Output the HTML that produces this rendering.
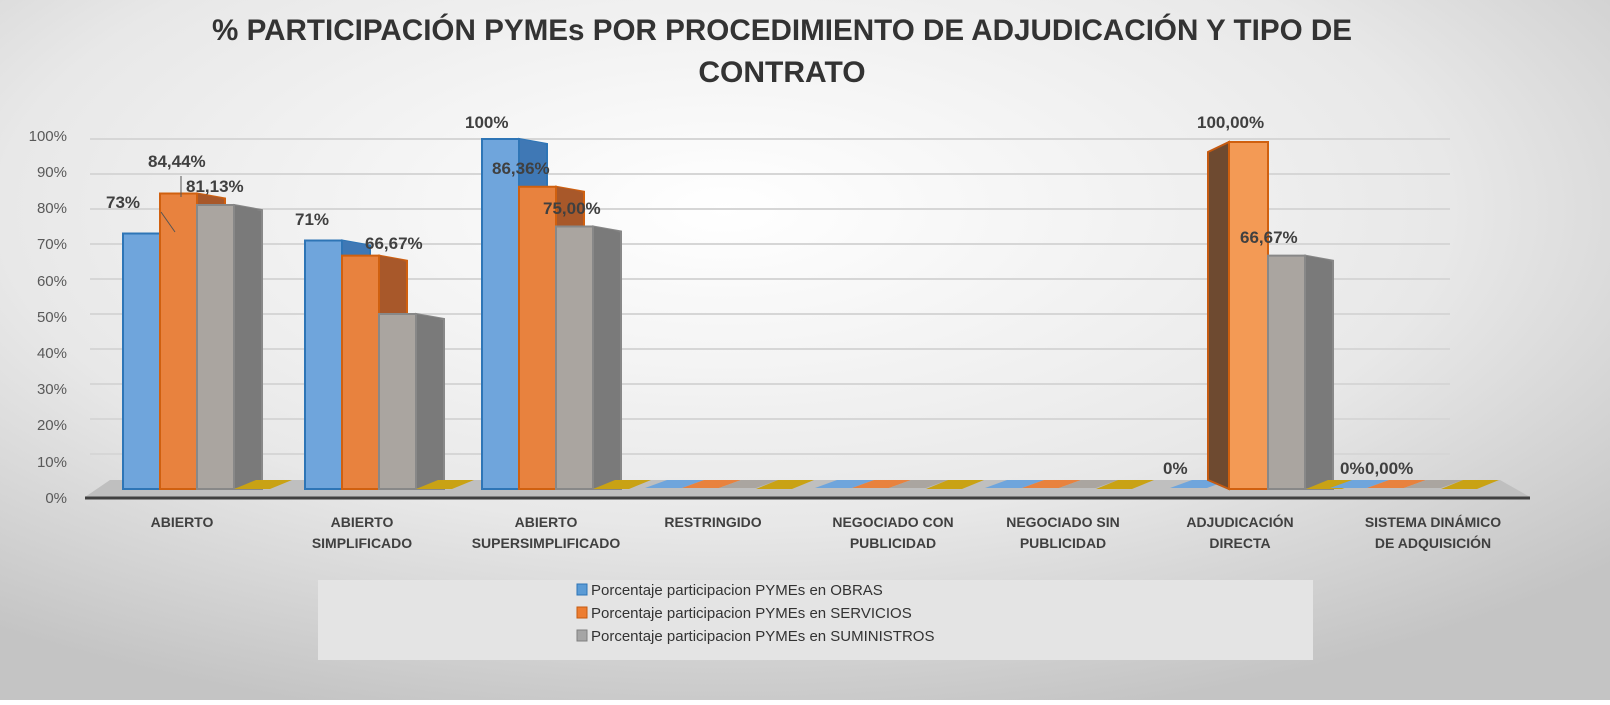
<!DOCTYPE html>
<html><head><meta charset="utf-8"><style>
html,body{margin:0;padding:0;}
body{width:1610px;height:700px;overflow:hidden;font-family:"Liberation Sans",sans-serif;}
svg text{font-family:"Liberation Sans",sans-serif;}
</style></head><body>
<svg id="s" width="1610" height="700" xmlns="http://www.w3.org/2000/svg">
<defs>
<radialGradient id="bg" cx="45%" cy="30%" r="75%">
<stop offset="0" stop-color="#ffffff"/><stop offset="0.6" stop-color="#e8e8e8"/><stop offset="1" stop-color="#c4c4c4"/>
</radialGradient>
</defs>
<rect width="1610" height="700" fill="url(#bg)"/>
<g id="grid" stroke="#d6d6d6" stroke-width="2"></g>
<polygon points="110,480 1500,480 1530,497 85,497" fill="#bfbfbf"/>
<line x1="85" y1="498" x2="1530" y2="498" stroke="#404040" stroke-width="3"/>
<g id="bars"></g>
<g font-size="30" font-weight="bold" fill="#333" text-anchor="middle">
<text x="782" y="40" textLength="1140" lengthAdjust="spacingAndGlyphs">% PARTICIPACIÓN PYMEs POR PROCEDIMIENTO DE ADJUDICACIÓN Y TIPO DE</text>
<text x="782" y="82">CONTRATO</text>
</g>
<g font-size="15" fill="#595959" text-anchor="end">
<text x="67" y="141">100%</text><text x="67" y="177">90%</text><text x="67" y="213">80%</text><text x="67" y="249">70%</text><text x="67" y="286">60%</text><text x="67" y="322">50%</text><text x="67" y="358">40%</text><text x="67" y="394">30%</text><text x="67" y="430">20%</text><text x="67" y="467">10%</text><text x="67" y="503">0%</text>
</g>
<g font-size="17" font-weight="bold" fill="#404040">
<text x="106" y="208">73%</text><text x="148" y="167">84,44%</text><text x="186" y="192">81,13%</text>
<text x="295" y="225">71%</text><text x="365" y="249">66,67%</text>
<text x="465" y="128">100%</text><text x="492" y="174">86,36%</text><text x="543" y="214">75,00%</text>
<text x="1197" y="128">100,00%</text><text x="1240" y="243">66,67%</text>
<text x="1163" y="474">0%</text><text x="1340" y="474">0%</text><text x="1365" y="474">0,00%</text>
</g>
<line x1="161" y1="212" x2="175" y2="232" stroke="#555"/>
<line x1="181" y1="176" x2="181" y2="197" stroke="#555"/>
<g font-size="14" font-weight="bold" fill="#404040" text-anchor="middle">
<text x="182" y="527">ABIERTO</text>
<text x="362" y="527">ABIERTO</text><text x="362" y="548">SIMPLIFICADO</text>
<text x="546" y="527">ABIERTO</text><text x="546" y="548">SUPERSIMPLIFICADO</text>
<text x="713" y="527">RESTRINGIDO</text>
<text x="893" y="527">NEGOCIADO CON</text><text x="893" y="548">PUBLICIDAD</text>
<text x="1063" y="527">NEGOCIADO SIN</text><text x="1063" y="548">PUBLICIDAD</text>
<text x="1240" y="527">ADJUDICACIÓN</text><text x="1240" y="548">DIRECTA</text>
<text x="1433" y="527">SISTEMA DINÁMICO</text><text x="1433" y="548">DE ADQUISICIÓN</text>
</g>
<rect x="318" y="580" width="995" height="80" fill="#e4e4e4"/>
<rect x="577" y="584" width="10" height="11" fill="#5b9bd5" stroke="#2e75b6"/>
<rect x="577" y="607" width="10" height="11" fill="#ed7d31" stroke="#c55a11"/>
<rect x="577" y="630" width="10" height="11" fill="#a5a5a5" stroke="#7f7f7f"/>
<g font-size="15" fill="#333">
<text x="591" y="595">Porcentaje participacion PYMEs en OBRAS</text>
<text x="591" y="618">Porcentaje participacion PYMEs en SERVICIOS</text>
<text x="591" y="641">Porcentaje participacion PYMEs en SUMINISTROS</text>
</g>
</svg>
<script>
var NS="http://www.w3.org/2000/svg";
var g=document.getElementById("grid");
for(var k=1;k<=10;k++){var y=489-35*k;var l=document.createElementNS(NS,"line");l.setAttribute("x1",90);l.setAttribute("x2",1450);l.setAttribute("y1",y);l.setAttribute("y2",y);g.appendChild(l);}
var b=document.getElementById("bars");
function poly(p,f,s,o){var e=document.createElementNS(NS,"polygon");e.setAttribute("points",p);e.setAttribute("fill",f);if(s){e.setAttribute("stroke",s);e.setAttribute("stroke-width",2);}if(o)e.setAttribute("opacity",o);b.appendChild(e);}
var C=[["#6fa5dc","#3f78b5","#2e75b6"],["#e8823e","#a8582a","#d0600f"],["#aaa5a0","#7a7a7a","#888"]];
var base=489,W=37;
function bar(x,v,c){if(v<=0){poly((x)+","+(base-1)+" "+(x+W)+","+(base-1)+" "+(x+W+22)+","+(base-9)+" "+(x+22)+","+(base-9),C[c][0]);return;}
var t=base-3.5*v;
poly((x+W)+","+t+" "+(x+W+28)+","+(t+5)+" "+(x+W+28)+","+(base)+" "+(x+W)+","+base,C[c][1],C[c][2]);
poly(x+","+t+" "+(x+W)+","+t+" "+(x+W+28)+","+(t+5)+" "+(x+28)+","+(t+5),C[c][1]);
poly(x+","+t+" "+(x+W)+","+t+" "+(x+W)+","+base+" "+x+","+base,C[c][0],C[c][2]);}
function yel(x){poly(x+","+base+" "+(x+36)+","+base+" "+(x+58)+","+(base-9)+" "+(x+22)+","+(base-9),"#c9a214");}
var groups=[[123,[73,84.44,81.13]],[305,[71,66.67,50]],[482,[100,86.36,75]],[645,[0,0,0]],[815,[0,0,0]],[985,[0,0,0]],[1160,[0,100,66.67]],[1330,[0,0,0]]];
groups.forEach(function(gp){var x=gp[0];
 if(gp[0]==1160){bar(x+10,0,0);poly("1208,152 1229,142 1229,489 1208,480","#6e4a30","#c55a11");
  poly("1229,142 1268,142 1268,489 1229,489","#f39a55","#d0600f");bar(1268,66.67,2);yel(1306);return;}
 for(var i=0;i<3;i++)bar(x+i*W,gp[1][i],i);yel(x+3*W);});
</script>
</body></html>
